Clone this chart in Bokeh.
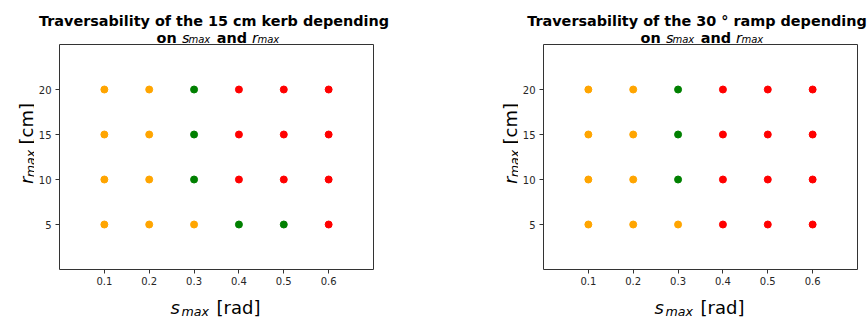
import math
from bokeh.plotting import figure
from bokeh.layouts import row, column
from bokeh.models import Label, Range1d, FixedTicker, ColumnDataSource
from bokeh.embed import file_html
from bokeh.resources import INLINE

# ---- data ----
s_values = [0.1, 0.2, 0.3, 0.4, 0.5, 0.6]          # s_max [rad]
r_values = [5, 10, 15, 20]                          # r_max [cm]
# rows: s_values, columns: r_values (5, 10, 15, 20)
kerb_colors = [
    ["orange", "orange", "orange", "orange"],
    ["orange", "orange", "orange", "orange"],
    ["orange", "green", "green", "green"],
    ["green", "red", "red", "red"],
    ["green", "red", "red", "red"],
    ["red", "red", "red", "red"],
]
ramp_colors = [
    ["orange", "orange", "orange", "orange"],
    ["orange", "orange", "orange", "orange"],
    ["orange", "green", "green", "green"],
    ["red", "red", "red", "red"],
    ["red", "red", "red", "red"],
    ["red", "red", "red", "red"],
]
titles = ["Traversability of the 15 cm kerb depending",
          "Traversability of the 30 \u00b0 ramp depending"]
x_lim = (0.0, 0.7)
y_lim = (0.0, 25.0)

FONT = "DejaVu Sans"

# ---- layout constants (pixels) ----
W = 867
TITLE_H = 44
MAIN_H = 250
XLAB_H = 26
FRAME_W, FRAME_H = 314, 225
YLAB1_W, L1, R1 = 34, 25, 100
YLAB2_W, L2, R2 = 45, 25, 10
frame1_left = YLAB1_W + L1
frame2_left = YLAB1_W + L1 + FRAME_W + R1 + YLAB2_W + L2
centers = [frame1_left + FRAME_W / 2, frame2_left + FRAME_W / 2]
title_starts = [-177.5, -173.3]   # left edge of the first title line, relative to frame centre


def canvas(w, h):
    c = figure(output_backend="svg", toolbar_location=None, width=w, height=h,
               min_border=0, x_axis_location=None, y_axis_location=None,
               x_range=Range1d(0, w), y_range=Range1d(h, 0),
               background_fill_color="white", border_fill_color="white")
    c.outline_line_color = None
    c.xgrid.visible = False
    c.ygrid.visible = False
    return c


def add_text(c, x, y, text, size, style="normal", angle=0.0, align="left"):
    c.add_layout(Label(x=x, y=y, text=text, text_font=FONT,
                       text_font_size=f"{size}px", text_font_style=style,
                       text_align=align, text_baseline="alphabetic",
                       angle=angle, text_color="black"))


def make_plot(colors, left_border, right_border):
    xs, ys, cs = [], [], []
    for i, s in enumerate(s_values):
        for j, r in enumerate(r_values):
            xs.append(s)
            ys.append(r)
            cs.append(colors[i][j])
    src = ColumnDataSource(dict(s=xs, r=ys, c=cs))

    p = figure(output_backend="svg", toolbar_location=None,
               frame_width=FRAME_W, frame_height=FRAME_H,
               min_border_left=left_border, min_border_right=right_border,
               min_border_top=0, min_border_bottom=MAIN_H - FRAME_H,
               x_range=Range1d(*x_lim), y_range=Range1d(*y_lim),
               background_fill_color="white", border_fill_color="white")
    p.scatter("s", "r", source=src, size=7, fill_color="c", line_color="c",
              line_width=1)

    p.xgrid.visible = False
    p.ygrid.visible = False
    p.outline_line_color = "#333333"
    p.outline_line_width = 1
    p.outline_line_alpha = 1.0

    p.xaxis.ticker = FixedTicker(ticks=s_values)
    p.yaxis.ticker = FixedTicker(ticks=r_values)
    for ax in (p.xaxis, p.yaxis):
        ax.axis_line_color = None
        ax.major_tick_in = 0
        ax.major_tick_out = 4
        ax.major_tick_line_color = "#333333"
        ax.minor_tick_line_color = None
        ax.major_label_text_font = FONT
        ax.major_label_text_font_size = "10px"
        ax.major_label_text_color = "#262626"
    p.xaxis.major_label_standoff = 3
    p.yaxis.major_label_standoff = 4
    return p


# titles
tfig = canvas(W, TITLE_H)
for cx, title, t0 in zip(centers, titles, title_starts):
    add_text(tfig, cx + t0, 20.5, title, 14.4, "bold")
    add_text(tfig, cx - 60, 37, "on", 14.4, "bold")
    add_text(tfig, cx - 34.5, 37, "s", 14.4, "italic")
    add_text(tfig, cx - 28, 39, "max", 10, "italic")
    add_text(tfig, cx + 0.3, 37, "and", 14.4, "bold")
    add_text(tfig, cx + 35.5, 37, "r", 14.4, "italic")
    add_text(tfig, cx + 41, 39, "max", 10, "italic")

# x labels
xfig = canvas(W, XLAB_H)
for cx in centers:
    add_text(xfig, cx - 46, 13, "s", 18, "italic")
    add_text(xfig, cx - 35, 17, "max", 12.6, "italic")
    add_text(xfig, cx + 0, 13, "[rad]", 18)

# y labels (rotated)
a = math.pi / 2
mid = FRAME_H / 2


def ylabel_fig(w, left_border):
    base_x = w + left_border - 33.5
    c = canvas(w, MAIN_H)
    add_text(c, base_x, mid + 42.5, "r", 18, "italic", angle=a)
    add_text(c, base_x + 4.5, mid + 35, "max", 12.6, "italic", angle=a)
    add_text(c, base_x, mid - 1.5, "[cm]", 18, angle=a)
    return c


y1 = ylabel_fig(YLAB1_W, L1)
y2 = ylabel_fig(YLAB2_W, L2)

p1 = make_plot(kerb_colors, L1, R1)
p2 = make_plot(ramp_colors, L2, R2)

layout = column(tfig, row(y1, p1, y2, p2), xfig)

open("out.html", "w").write(file_html(layout, INLINE))
